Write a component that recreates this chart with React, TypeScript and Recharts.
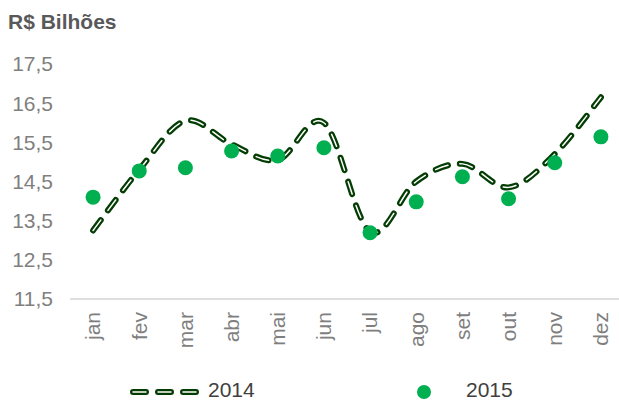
import React from 'react';
import { LineChart, Line, XAxis, YAxis } from 'recharts';

const MONTHS = ['jan', 'fev', 'mar', 'abr', 'mai', 'jun', 'jul', 'ago', 'set', 'out', 'nov', 'dez'];
const SERIES_2014 = [13.25, 14.8, 16.05, 15.45, 15.05, 16.0, 13.22, 14.5, 14.95, 14.35, 15.2, 16.65];
const SERIES_2015 = [14.1, 14.77, 14.85, 15.28, 15.15, 15.36, 13.19, 13.98, 14.62, 14.06, 14.98, 15.64];
const Y_TICKS = [11.5, 12.5, 13.5, 14.5, 15.5, 16.5, 17.5];

const FONT = '"Liberation Sans", Arial, sans-serif';
const LINE_GREEN = '#043d04';
const DOT_GREEN = '#00B050';
const AXIS_GRAY = '#7f7f7f';

const data = MONTHS.map((m, i) => ({ m, idx: i + 0.5, y2014: SERIES_2014[i], y2015: SERIES_2015[i] }));
const boundaryTicks = MONTHS.map((_, i) => i).concat(MONTHS.length);

// Excel-like smoothed line (Catmull-Rom through the points)
function smoothCurve(context: any) {
  let pts: [number, number][] = [];
  return {
    areaStart() {},
    areaEnd() {},
    lineStart() {
      pts = [];
    },
    point(x: number, y: number) {
      pts.push([+x, +y]);
    },
    lineEnd() {
      if (!pts.length) return;
      context.moveTo(pts[0][0], pts[0][1]);
      for (let i = 0; i < pts.length - 1; i++) {
        const p0 = pts[i - 1] ?? pts[i];
        const p1 = pts[i];
        const p2 = pts[i + 1];
        const p3 = pts[i + 2] ?? pts[i + 1];
        context.bezierCurveTo(
          p1[0] + (p2[0] - p0[0]) / 6,
          p1[1] + (p2[1] - p0[1]) / 6,
          p2[0] - (p3[0] - p1[0]) / 6,
          p2[1] - (p3[1] - p1[1]) / 6,
          p2[0],
          p2[1]
        );
      }
    },
  };
}

const MonthTick = (props: any) => {
  const { x, y, payload } = props;
  const ty = y + 12;
  return (
    <text
      x={x}
      y={ty}
      transform={`rotate(-90 ${x} ${ty})`}
      textAnchor="end"
      dy="0.35em"
      fill={AXIS_GRAY}
      fontSize={21}
      fontFamily={FONT}
    >
      {payload.value}
    </text>
  );
};

function LegendRow() {
  return (
    <div style={{ position: 'absolute', left: 0, top: 378, width: 619, height: 23, fontFamily: FONT, fontSize: 21, lineHeight: '21px', color: '#404040' }}>
      <svg width={90} height={23} style={{ position: 'absolute', left: 122, top: 0 }}>
        <line x1={11} y1={14} x2={82} y2={14} stroke={LINE_GREEN} strokeWidth={6} strokeDasharray="13 12" strokeLinecap="round" />
        <line x1={11} y1={14} x2={82} y2={14} stroke="#fff" strokeWidth={1.5} strokeDasharray="13 12" strokeLinecap="round" />
      </svg>
      <span style={{ position: 'absolute', left: 208, top: 1 }}>2014</span>
      <svg width={20} height={23} style={{ position: 'absolute', left: 414, top: 0 }}>
        <circle cx={10} cy={14} r={7} fill={DOT_GREEN} />
      </svg>
      <span style={{ position: 'absolute', left: 466, top: 1 }}>2015</span>
    </div>
  );
}

export default function App() {
  return (
    <div style={{ position: 'absolute', left: 0, top: 0, width: 619, height: 401, overflow: 'hidden', background: '#fff' }}>
      <div style={{ position: 'absolute', left: 8, top: 10, fontFamily: FONT, fontSize: 21, lineHeight: '24px', fontWeight: 700, color: '#595959' }}>
        R$ Bilhões
      </div>
      <LineChart width={626} height={401} data={data} margin={{ top: 64, right: 2, bottom: 0, left: 0 }}>
        <XAxis
          xAxisId={0}
          type="number"
          dataKey="idx"
          domain={[0, 12]}
          ticks={boundaryTicks}
          allowDataOverflow
          tick={false}
          tickSize={5}
          height={1}
          axisLine={{ stroke: '#bfbfbf' }}
          tickLine={{ stroke: '#bfbfbf' }}
        />
        <XAxis
          xAxisId={1}
          dataKey="m"
          axisLine={false}
          tickLine={false}
          tickSize={0}
          tickMargin={0}
          interval={0}
          height={101}
          padding={{ left: 23.08, right: 23.08 }}
          tick={<MonthTick />}
        />
        <YAxis
          domain={[11.5, 17.5]}
          ticks={Y_TICKS}
          width={70}
          axisLine={false}
          tickLine={false}
          tickSize={0}
          tickMargin={17}
          tickFormatter={(v: number) => v.toFixed(1).replace('.', ',')}
          tick={{ fill: AXIS_GRAY, fontSize: 21, fontFamily: FONT }}
        />
        <Line
          xAxisId={0}
          dataKey="y2015"
          stroke="none"
          dot={false}
          activeDot={false}
          legendType="none"
          isAnimationActive={false}
        />
        <Line
          xAxisId={1}
          dataKey="y2014"
          type={smoothCurve as any}
          stroke={LINE_GREEN}
          strokeWidth={6}
          strokeDasharray="13 12"
          strokeLinecap="round"
          dot={false}
          activeDot={false}
          isAnimationActive={false}
        />
        <Line
          xAxisId={1}
          dataKey="y2014"
          type={smoothCurve as any}
          stroke="#ffffff"
          strokeWidth={1.5}
          strokeDasharray="13 12"
          strokeLinecap="round"
          dot={false}
          activeDot={false}
          isAnimationActive={false}
        />
        <Line
          xAxisId={1}
          dataKey="y2015"
          stroke="none"
          dot={{ r: 7.5, fill: DOT_GREEN, stroke: 'none' }}
          activeDot={false}
          isAnimationActive={false}
        />
      </LineChart>
      <LegendRow />
    </div>
  );
}
